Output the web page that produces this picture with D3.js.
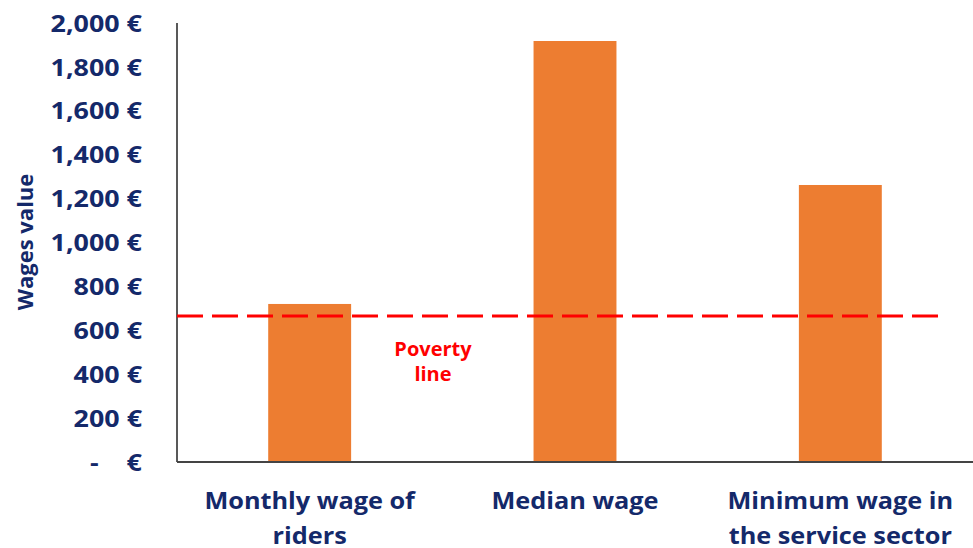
<!DOCTYPE html>
<html>
<head>
<meta charset="utf-8">
<script src="https://cdn.jsdelivr.net/npm/d3@7"></script>
<style>
  body { margin: 0; background: #fff; }
  text { font-family: "Open Sans", Lato, sans-serif; font-weight: bold; }
</style>
</head>
<body>
<div id="chart"></div>
<script>
// chart data
var categories = [["Monthly wage of", "riders"], ["Median wage"], ["Minimum wage in", "the service sector"]];
var wages = [720, 1918, 1262];
var povertyLine = 665;
var yTicks = [0, 200, 400, 600, 800, 1000, 1200, 1400, 1600, 1800, 2000];

var width = 973, height = 548;
var margin = { top: 23, right: 0, bottom: 86, left: 177 };
var innerW = width - margin.left - margin.right,
    innerH = height - margin.top - margin.bottom;

var navy = "#14296a";

var svg = d3.select("#chart")
    .append("svg")
    .attr("width", width)
    .attr("height", height);

var g = svg.append("g")
    .attr("transform", "translate(" + margin.left + "," + margin.top + ")");

var x = d3.scaleBand()
    .domain(d3.range(categories.length))
    .range([0, innerW])
    .paddingInner(0.6875)
    .paddingOuter(0.34375);

var y = d3.scaleLinear()
    .domain([0, 2000])
    .range([innerH, 0]);

// y tick labels (slightly widened, the source font is broader)
var fmt = d3.format(",");
g.append("g")
    .selectAll("g")
    .data(yTicks)
    .join("g")
    .attr("transform", function (d) { return "translate(-35," + y(d) + ") scale(1.12,1)"; })
    .append("text")
    .attr("dy", "0.36em")
    .attr("text-anchor", "end")
    .attr("fill", navy)
    .style("font-size", "24px")
    .style("white-space", "pre")
    .text(function (d) { return d === 0 ? "-    €" : fmt(d) + " €"; });

// bars
g.selectAll("rect.bar")
    .data(wages)
    .join("rect")
    .attr("class", "bar")
    .attr("x", function (d, i) { return x(i); })
    .attr("width", x.bandwidth())
    .attr("y", function (d) { return y(d); })
    .attr("height", function (d) { return innerH - y(d); })
    .attr("fill", "#ed7d31");

// axes lines
g.append("line")
    .attr("x1", 0).attr("x2", 0)
    .attr("y1", 0).attr("y2", innerH)
    .attr("stroke", "#222")
    .attr("stroke-width", 1.5);

g.append("line")
    .attr("x1", 0).attr("x2", innerW)
    .attr("y1", innerH).attr("y2", innerH)
    .attr("stroke", "#444")
    .attr("stroke-width", 2);

// poverty line
g.append("line")
    .attr("x1", 0).attr("x2", innerW - 27)
    .attr("y1", y(povertyLine)).attr("y2", y(povertyLine))
    .attr("stroke", "#ff0000")
    .attr("stroke-width", 3)
    .attr("stroke-dasharray", "26,9");

var pl = g.append("text")
    .attr("x", 256)
    .attr("y", y(povertyLine) + 40)
    .attr("text-anchor", "middle")
    .attr("fill", "#ff0000")
    .style("font-size", "20px");
pl.append("tspan").attr("x", 256).text("Poverty");
pl.append("tspan").attr("x", 256).attr("dy", 25).text("line");

// category labels
g.append("g")
    .selectAll("g")
    .data(categories)
    .join("g")
    .attr("transform", function (d, i) {
        return "translate(" + (x(i) + x.bandwidth() / 2) + "," + innerH + ") scale(1.1,1)";
    })
    .append("text")
    .attr("text-anchor", "middle")
    .attr("fill", navy)
    .style("font-size", "23px")
    .each(function (d) {
        var t = d3.select(this);
        d.forEach(function (line, j) {
            t.append("tspan")
                .attr("x", 0)
                .attr("y", 47 + j * 35)
                .text(line);
        });
    });

// y axis title
svg.append("text")
    .attr("transform", "translate(33,242) rotate(-90)")
    .attr("text-anchor", "middle")
    .attr("fill", navy)
    .style("font-size", "22px")
    .text("Wages value");
</script>
</body>
</html>
